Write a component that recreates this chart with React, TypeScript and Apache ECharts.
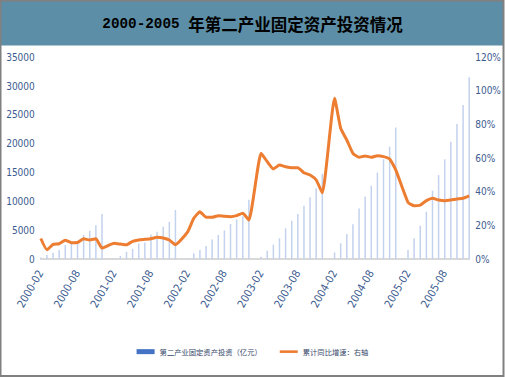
import React, { useEffect, useRef } from "react";
import * as echarts from "echarts";

// Years and months used to build the monthly category axis (Jan has no data)
const years = ["2000", "2001", "2002", "2003", "2004", "2005"];
const months = ["01", "02", "03", "04", "05", "06", "07", "08", "09", "10", "11", "12"];

// Secondary industry fixed-asset investment (亿元), Feb..Dec of each year
const inv2000 = [250, 700, 1090, 1560, 2430, 2830, 3000, 4160, 4900, 5850, 7800];
const inv2001 = [150, 520, 1250, 1750, 2700, 2850, 4250, 4750, 5600, 6450, 8500];
const inv2002 = [150, 1000, 1560, 2250, 3400, 4160, 4950, 6070, 6890, 7400, 10300];
const inv2003 = [400, 1440, 2480, 3590, 5330, 6650, 7800, 9250, 10700, 12270, 14800];
const inv2004 = [1150, 2720, 4340, 6050, 8750, 10800, 12700, 15000, 17300, 19480, 22800];
const inv2005 = [1560, 3590, 5780, 8200, 11850, 14570, 17300, 20350, 23420, 26720, 31520];

// Cumulative YoY growth (%), Feb..Dec of each year
const g2000 = [12.2, 5.5, 8.7, 9.1, 11.1, 9.7, 9.8, 12.0, 11.3, 12.1, 6.5];
const g2001 = [9.3, 8.9, 8.5, 10.5, 11.3, 11.7, 12.1, 12.9, 12.5, 11.3, 8.5];
const g2002 = [16.2, 24.2, 28.1, 24.8, 24.8, 25.8, 25.4, 25.2, 25.8, 27.2, 23.2];
const g2003 = [62.9, 57.9, 53.6, 55.9, 54.9, 54.3, 54.3, 51.3, 50.0, 47.0, 39.4];
const g2004 = [95.6, 77.8, 70.8, 62.9, 60.5, 61.3, 60.5, 61.5, 60.9, 59.5, 53.0];
const g2005 = [33.7, 31.7, 32.1, 34.7, 36.1, 35.1, 34.7, 35.1, 35.7, 36.1, 37.5];

// Left axis ticks / right axis ticks
const leftMax = 35000;
const leftInterval = 5000;
const rightMax = 120;
const rightInterval = 20;

const seriesNames = ["第二产业固定资产投资（亿元）", "累计同比增速：右轴"];
const titleYears = "2000-2005 ";
const titleText = "年第二产业固定资产投资情况";

const invByYear = [inv2000, inv2001, inv2002, inv2003, inv2004, inv2005];
const gByYear = [g2000, g2001, g2002, g2003, g2004, g2005];

function buildSeries() {
  const cats: string[] = [];
  const inv: (number | null)[] = [];
  const g: (number | null)[] = [];
  years.forEach((y, yi) => {
    months.forEach((m, mi) => {
      if (yi === 0 && mi === 0) return;
      cats.push(`${y}-${m}`);
      if (mi === 0) {
        inv.push(null);
        g.push(null);
      } else {
        inv.push(invByYear[yi][mi - 1]);
        g.push(gByYear[yi][mi - 1]);
      }
    });
  });
  return { cats, inv, g };
}

export default function App() {
  const ref = useRef<HTMLDivElement>(null);
  useEffect(() => {
    if (!ref.current) return;
    const chart = echarts.init(ref.current, undefined, { renderer: "svg" });
    const { cats, inv, g } = buildSeries();
    const axisFont = "'Liberation Sans Narrow', 'DejaVu Sans Condensed', 'Liberation Sans', Arial, sans-serif";
    const labelColor = "#3b5b8f";
    chart.setOption({
      animation: false,
      backgroundColor: "#ffffff",
      graphic: [
        {
          type: "rect",
          shape: { x: 1, y: 1, width: 502, height: 44.5 },
          style: { fill: "#5c8fa7" },
          z: -1,
        },
        {
          type: "rect",
          shape: { x: 0.5, y: 0.5, width: 503, height: 375.5 },
          style: { fill: "none", stroke: "#808080", lineWidth: 2 },
          z: 100,
        },
      ],
      title: {
        text: `{a|${titleYears}}{b|${titleText}}`,
        left: "center",
        top: 16,
        padding: 0,
        textStyle: {
          rich: {
            a: {
              fontFamily: "'Liberation Mono', monospace",
              fontSize: 14.3,
              fontWeight: "bold",
              color: "#000",
            },
            b: {
              fontFamily: "'Noto Sans CJK SC', sans-serif",
              fontSize: 16.5,
              fontWeight: "bold",
              color: "#000",
            },
          },
        },
      },
      legend: {
        top: 348,
        left: "center",
        padding: 0,
        itemGap: 18,
        itemWidth: 18,
        itemHeight: 5,
        textStyle: {
          fontFamily: "'Noto Sans CJK SC', sans-serif",
          fontSize: 7.3,
          color: "#34466a",
        },
        data: [
          { name: seriesNames[0], icon: "rect", itemStyle: { color: "#4472c4" } },
          {
            name: seriesNames[1],
            icon: "path://M0,0M0,1.2H18V3.8H0ZM18,5",
            itemStyle: { color: "#ed7d31" },
          },
        ],
      },
      grid: { left: 40.8, right: 35.8, top: 57.3, bottom: 118 },
      xAxis: {
        type: "category",
        data: cats,
        boundaryGap: false,
        axisLine: { lineStyle: { color: "#d9d9d9", width: 2 } },
        axisTick: { show: false },
        axisLabel: {
          interval: 5,
          rotate: 60,
          margin: 12,
          color: labelColor,
          fontSize: 11,
          fontFamily: axisFont,
        },
      },
      yAxis: [
        {
          type: "value",
          min: 0,
          max: leftMax,
          interval: leftInterval,
          splitLine: { show: false },
          axisLine: { show: false },
          axisTick: { show: false },
          axisLabel: {
            color: labelColor,
            fontSize: 10,
            margin: 6,
            fontFamily: axisFont,
            formatter: (v: number) => String(v),
          },
        },
        {
          type: "value",
          min: 0,
          max: rightMax,
          interval: rightInterval,
          splitLine: { show: false },
          axisLine: { show: false },
          axisTick: { show: false },
          axisLabel: {
            color: labelColor,
            fontSize: 10,
            margin: 6,
            fontFamily: axisFont,
            formatter: "{value}%",
          },
        },
      ],
      series: [
        {
          name: seriesNames[0],
          type: "bar",
          data: inv,
          barWidth: 1.5,
          itemStyle: { color: "#c3d2ee" },
          yAxisIndex: 0,
        },
        {
          name: seriesNames[1],
          type: "line",
          data: g,
          yAxisIndex: 1,
          connectNulls: true,
          smooth: 0.15,
          symbol: "none",
          lineStyle: { color: "#ed7d31", width: 3 },
          itemStyle: { color: "#ed7d31" },
        },
      ],
    });
    return () => chart.dispose();
  }, []);
  return (
    <div
      ref={ref}
      style={{ position: "fixed", left: 0, top: 0, width: 505, height: 377 }}
    />
  );
}
